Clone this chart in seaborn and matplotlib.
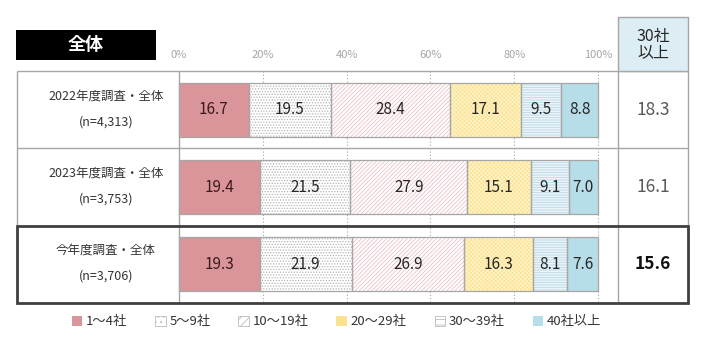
import matplotlib
matplotlib.use("Agg")
import matplotlib.pyplot as plt
from matplotlib.patches import Rectangle, Patch
import pandas as pd
import seaborn as sns

# --- data -------------------------------------------------------------
rows = ["2022年度調査・全体", "2023年度調査・全体", "今年度調査・全体"]
sample_sizes = ["(n=4,313)", "(n=3,753)", "(n=3,706)"]
categories = ["1～4社", "5～9社", "10～19社", "20～29社", "30～39社", "40社以上"]
share_1_4 = [16.7, 19.4, 19.3]
share_5_9 = [19.5, 21.5, 21.9]
share_10_19 = [28.4, 27.9, 26.9]
share_20_29 = [17.1, 15.1, 16.3]
share_30_39 = [9.5, 9.1, 8.1]
share_40_plus = [8.8, 7.0, 7.6]
share_30_plus = [18.3, 16.1, 15.6]
x_ticks = [0, 20, 40, 60, 80, 100]
series = [share_1_4, share_5_9, share_10_19, share_20_29, share_30_39, share_40_plus]

# --- styles -----------------------------------------------------------
fills = ["#D9959A", "#FFFFFF", "#FFFFFF", "#FBE291", "#FFFFFF", "#B7DDE8"]
hatches = [None, "......", "////////", "xxxxxxxx", "----------", None]
hatch_colors = [None, "#B4B4B4", "#EBC3C6", "#FFF4CC", "#B6D6E6", None]
legend_hatches = [None, "...", "////", None, "---", None]
label_colors = ["#3D1A1A", "#262626", "#262626", "#262626", "#262626", "#262626"]
grid_gray = "#A6A6A6"
text_gray = "#333333"

sns.set_theme(style="white")
plt.rcParams["font.family"] = ["Noto Sans CJK JP", "DejaVu Sans"]
plt.rcParams["hatch.linewidth"] = 0.6

W, H = 704, 344
fig = plt.figure(figsize=(W / 100, H / 100), dpi=100)
fig.patch.set_facecolor("white")

# table area: bar scale 0..100 spans the middle columns
px_per_unit = (598 - 179) / 100
x_left = (17 - 179) / px_per_unit
x_right = 100 + (688 - 598) / px_per_unit
x_col = (618 - 179) / px_per_unit
row_px = (303 - 71) / 3

ax = fig.add_axes([17 / W, 1 - 303 / H, (688 - 17) / W, (303 - 71) / H])

bar_h = 0.70
starts = [0.0, 0.0, 0.0]
for k, vals in enumerate(series):
    df = pd.DataFrame({"row": rows, "value": vals})
    layers = ["fill"] + (["hatch"] if hatches[k] else []) + ["edge"]
    for layer in layers:
        sns.barplot(data=df, x="value", y="row", order=rows, orient="y",
                    width=bar_h, saturation=1, errorbar=None, ax=ax,
                    color=fills[k])
        for p, s in zip(ax.containers[-1], starts):
            p.set_x(s)
            if layer == "fill":
                p.set_facecolor(fills[k])
                p.set_edgecolor("none")
                p.set_linewidth(0)
                p.set_zorder(2)
            elif layer == "hatch":
                p.set_facecolor("none")
                p.set_edgecolor(hatch_colors[k])
                p.set_linewidth(0)
                p.set_hatch(hatches[k])
                p.set_zorder(3)
            else:
                p.set_facecolor("none")
                p.set_edgecolor(grid_gray)
                p.set_linewidth(0.9)
                p.set_zorder(4)
    for i, (s, v) in enumerate(zip(starts, vals)):
        ax.text(s + v / 2, i, f"{v:.1f}", ha="center", va="center",
                fontsize=11, color=label_colors[k], zorder=6)
    starts = [s + v for s, v in zip(starts, vals)]

# axes limits and top percentage scale
ax.set_xlim(x_left, x_right)
ax.set_ylim(2.5, -0.5)
ax.set_xlabel("")
ax.set_ylabel("")
ax.set_yticks([])
ax.xaxis.tick_top()
ax.set_xticks(x_ticks)
ax.set_xticklabels([f"{t}%" for t in x_ticks])
ax.tick_params(axis="x", length=0, pad=8, labelsize=8, labelcolor="#A6A6A6")
for s in ax.spines.values():
    s.set_visible(False)
ax.grid(False)

# dotted guides at 20% steps
ax.vlines(x_ticks[1:], -0.5, 2.5, colors=grid_gray, linestyles=(0, (1, 2)),
          linewidth=0.8, zorder=1)

# table rules
ax.hlines([-0.5, 0.5], x_left, x_right, colors=grid_gray, linewidth=1.0,
          zorder=5, clip_on=False)
ax.vlines([x_left, x_right], -0.5, 1.5, colors=grid_gray, linewidth=1.0,
          zorder=5, clip_on=False)
ax.vlines([0, x_col], -0.5, 2.5, colors=grid_gray, linewidth=1.0, zorder=5,
          clip_on=False)
ax.add_patch(Rectangle((x_left, 1.5), x_right - x_left, 1.0, fill=False,
                       edgecolor="#404040", linewidth=2.0, zorder=7,
                       clip_on=False))

# row labels
xc = (106 - 179) / px_per_unit
for i, (r, n) in enumerate(zip(rows, sample_sizes)):
    ax.text(xc, i - 14 / row_px, r, ha="center", va="center", fontsize=9,
            color=text_gray)
    ax.text(xc, i + 12 / row_px, n, ha="center", va="center", fontsize=9,
            color=text_gray)

# 30社以上 column
xc_right = (x_col + x_right) / 2
for i, v in enumerate(share_30_plus):
    bold = i == len(share_30_plus) - 1
    ax.text(xc_right, i, f"{v:.1f}", ha="center", va="center",
            fontsize=12.5, fontweight="bold" if bold else "normal",
            color="#111111" if bold else "#595959", zorder=8)

head_top = -0.5 - (71 - 17) / row_px
ax.add_patch(Rectangle((x_col, head_top), x_right - x_col, -0.5 - head_top,
                       facecolor="#DCEEF4", edgecolor=grid_gray, linewidth=1.0,
                       clip_on=False, zorder=5))
ax.text(xc_right, -0.5 - (71 - 37) / row_px, "30社", ha="center", va="center",
        fontsize=11.5, color="#262626", zorder=6)
ax.text(xc_right, -0.5 - (71 - 53) / row_px, "以上", ha="center", va="center",
        fontsize=11.5, color="#262626", zorder=6)

# section title
t_x0 = (16 - 179) / px_per_unit
t_x1 = (156 - 179) / px_per_unit
t_y0 = -0.5 - (71 - 30) / row_px
t_y1 = -0.5 - (71 - 60) / row_px
ax.add_patch(Rectangle((t_x0, t_y0), t_x1 - t_x0, t_y1 - t_y0,
                       facecolor="black", edgecolor="none", clip_on=False))
ax.text((t_x0 + t_x1) / 2, (t_y0 + t_y1) / 2, "全体", ha="center",
        va="center", fontsize=13, fontweight="bold", color="white")

# legend
handles = [Patch(facecolor=f, edgecolor=("#BBBBBB" if k in (1, 2, 4) else "none"),
                 hatch=h, linewidth=0.6)
           for k, (f, h) in enumerate(zip(fills, legend_hatches))]
fig.legend(handles, categories, loc="center", ncol=6, frameon=False,
           bbox_to_anchor=(0.478, 1 - 322 / H), fontsize=9.5,
           handlelength=0.8, handleheight=0.8, handletextpad=0.3,
           columnspacing=2.1, labelcolor=text_gray)

fig.savefig("out.png", dpi=100)
